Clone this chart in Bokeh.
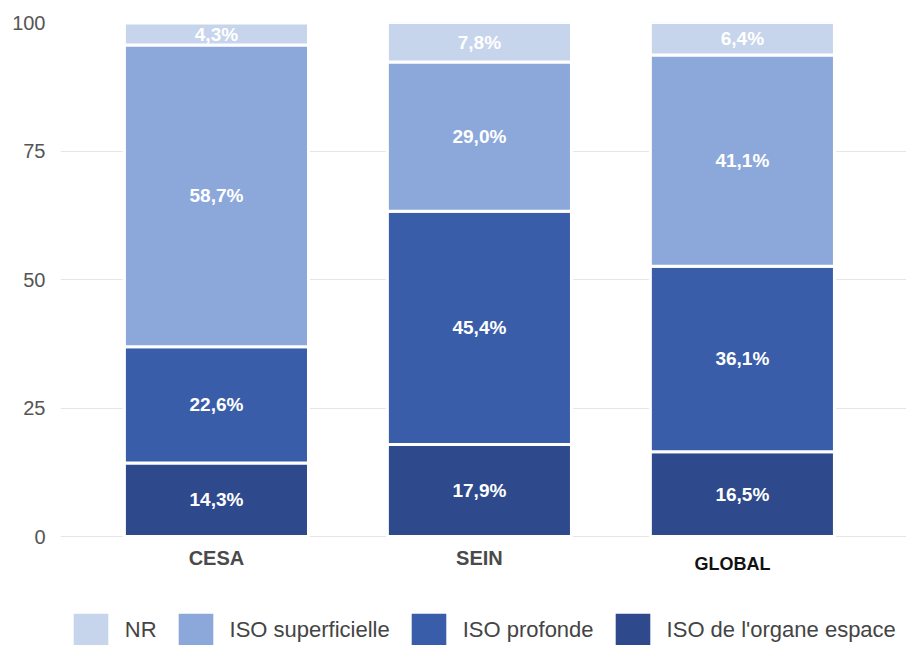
from bokeh.plotting import figure
from bokeh.models import (ColumnDataSource, Range1d, FixedTicker, Legend, LegendItem,
                          LabelSet, Label)
from bokeh.core.properties import value
from bokeh.embed import file_html
from bokeh.resources import INLINE

# Répartition des ISO par type (en %)
categories = ["CESA", "SEIN", "GLOBAL"]
organe_espace = [14.3, 17.9, 16.5]
profonde = [22.6, 45.4, 36.1]
superficielle = [58.7, 29.0, 41.1]
nr = [4.3, 7.8, 6.4]

series_names = ["ISO de l'organe espace", "ISO profonde", "ISO superficielle", "NR"]
series_values = [organe_espace, profonde, superficielle, nr]
series_colors = ["#2e4a8c", "#3a5daa", "#8ca8db", "#c6d4ec"]
y_ticks = [0, 25, 50, 75, 100]

FONT = "Liberation Sans"
xs = list(range(len(categories)))

# the frame runs down to the bottom edge: the room under 0 holds the
# category names and the legend
p = figure(width=906, height=645, output_backend="svg", toolbar_location=None,
           x_range=Range1d(-0.593, 2.624), y_range=Range1d(-21.2, 100),
           x_axis_location=None,
           min_border_left=60, min_border_right=0, min_border_top=22,
           min_border_bottom=0)
p.outline_line_color = None
p.background_fill_color = "white"
p.border_fill_color = "white"

renderers = []
bottoms = [0.0] * len(categories)
for name, vals, col in zip(series_names, series_values, series_colors):
    tops = [b + v for b, v in zip(bottoms, vals)]
    src = ColumnDataSource(dict(
        x=xs, bottom=bottoms, top=tops,
        mid=[(b + t) / 2 for b, t in zip(bottoms, tops)],
        lab=[f"{v:.1f}%".replace(".", ",") for v in vals],
    ))
    r = p.vbar(x="x", bottom="bottom", top="top", width=0.70, source=src,
               fill_color=col, line_color="white", line_width=3)
    renderers.append((name, r))
    p.add_layout(LabelSet(x="x", y="mid", text="lab", source=src,
                          text_align="center", text_baseline="middle",
                          text_color="white", text_font=value(FONT),
                          text_font_style="bold", text_font_size="19px"))
    bottoms = tops

# category names under the bars
for i, c in enumerate(categories):
    is_global = c == "GLOBAL"
    p.add_layout(Label(x=i - 0.038 if is_global else i,
                       y=-5.25 if is_global else -4.1, text=c,
                       text_align="center", text_baseline="middle",
                       text_font=FONT, text_font_style="bold",
                       text_font_size="18px" if is_global else "20px",
                       text_color="#111111" if is_global else "#4a4a4a"))

p.yaxis.ticker = FixedTicker(ticks=y_ticks)
p.yaxis.major_label_text_font = FONT
p.yaxis.major_label_text_font_size = "20px"
p.yaxis.major_label_text_color = "#555555"
p.yaxis.major_label_standoff = 15
p.yaxis.major_tick_out = 0
p.yaxis.major_tick_in = 0
p.yaxis.axis_line_color = None
p.yaxis.major_tick_line_color = None
p.yaxis.minor_tick_line_color = None

p.xgrid.grid_line_color = None
p.ygrid.ticker = FixedTicker(ticks=y_ticks)
p.ygrid.grid_line_color = "#e6e6e6"
p.ygrid.grid_line_width = 1

# legend: NR first, then superficielle, profonde, organe espace
order = ["NR", "ISO superficielle", "ISO profonde", "ISO de l'organe espace"]
rmap = dict(renderers)
legend = Legend(items=[LegendItem(label=n, renderers=[rmap[n]]) for n in order],
                orientation="horizontal", location=(6.75, -8.75),
                glyph_width=47, glyph_height=47, label_standoff=11, spacing=15,
                padding=0, margin=0, border_line_color=None,
                background_fill_alpha=0,
                label_text_font=FONT, label_text_font_size="22px",
                label_text_color="#444444", label_height=47)
p.add_layout(legend)

open("out.html", "w").write(file_html(p, INLINE))
